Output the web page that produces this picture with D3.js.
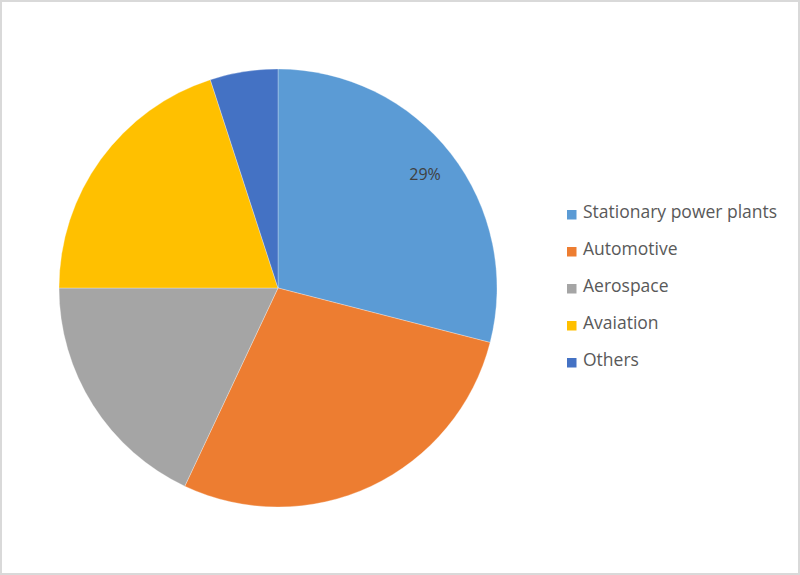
<!DOCTYPE html>
<html><head><meta charset="utf-8">
<script src="https://cdn.jsdelivr.net/npm/d3@7"></script>
<style>html,body{margin:0;padding:0;background:#fff;}svg{display:block;}</style>
</head><body>
<svg id="chart" width="800" height="575"></svg>
<script>
const categories = ["Stationary power plants", "Automotive", "Aerospace", "Avaiation", "Others"];
const values = [29, 28, 18, 20, 5];
const colors = ["#5B9BD5", "#ED7D31", "#A5A5A5", "#FFC000", "#4472C4"];
const shownLabels = ["29%", "", "", "", ""];

const svg = d3.select("#chart");
const W = 800, H = 575;
svg.append("rect").attr("x", 1).attr("y", 1).attr("width", W - 2).attr("height", H - 2)
  .attr("fill", "#fff").attr("stroke", "#d9d9d9").attr("stroke-width", 2);

const cx = 278, cy = 288, R = 219;
const pie = d3.pie().sort(null).value(d => d.v);
const data = categories.map((c, i) => ({c, v: values[i], col: colors[i], lab: shownLabels[i]}));
const arcs = pie(data);
const arc = d3.arc().innerRadius(0).outerRadius(R);
const g = svg.append("g").attr("transform", `translate(${cx},${cy})`);
g.selectAll("path").data(arcs).enter().append("path")
  .attr("d", arc).attr("fill", d => d.data.col)
  .attr("stroke", "#fff").attr("stroke-width", 0.3);

const labelArc = d3.arc().innerRadius(R * 0.85).outerRadius(R * 0.85);
g.selectAll("text.lbl").data(arcs.filter(d => d.data.lab)).enter().append("text")
  .attr("class", "lbl")
  .attr("transform", d => `translate(${labelArc.centroid(d)})`)
  .attr("text-anchor", "middle").attr("dy", "0.35em")
  .attr("font-family", "'Open Sans', sans-serif").attr("font-size", 16)
  .attr("fill", "#404040").text(d => d.data.lab);

const lg = svg.append("g");
const item = lg.selectAll("g").data(data).enter().append("g")
  .attr("transform", (d, i) => `translate(567,${218 + i * 37})`);
item.append("rect").attr("x", 0).attr("y", -8).attr("width", 9.5).attr("height", 9.5)
  .attr("fill", d => d.col);
item.append("text").attr("x", 16).attr("y", 0)
  .attr("font-family", "'Open Sans', sans-serif").attr("font-size", 17.5)
  .attr("fill", "#595959").text(d => d.c);
</script>
</body></html>
